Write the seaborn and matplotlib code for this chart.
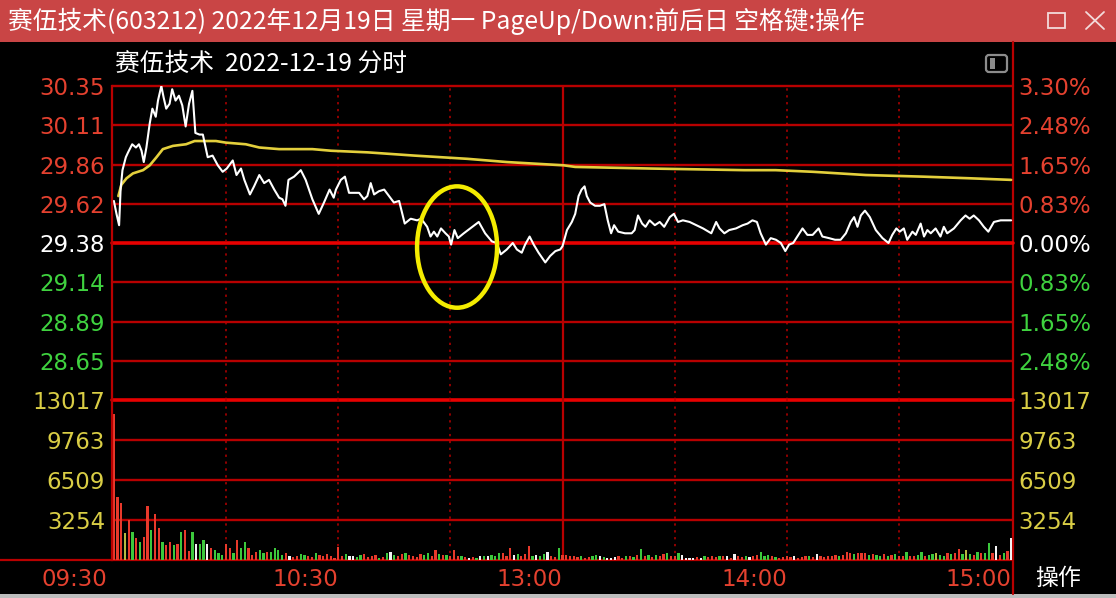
import numpy as np
import pandas as pd
import matplotlib
matplotlib.use("Agg")
import matplotlib.pyplot as plt
import seaborn as sns
from matplotlib.patches import Rectangle, Ellipse, FancyBboxPatch
from matplotlib.lines import Line2D
from matplotlib.transforms import ScaledTranslation

# ---- data (minutes after 09:30, afternoon continues at 120) ----
price_min = [0, 0.7, 1.4, 1.8, 2.3, 3.2, 3.8, 4.9, 5.9, 6.7, 7.4, 8.0, 8.7, 9.6, 10.3, 11.2, 11.8, 12.7,
             13.3, 14.0, 14.9, 15.6, 16.5, 17.4, 18.3, 19.2, 20.1, 21.0, 21.8, 22.9, 23.8, 25.1, 26.4,
             27.8, 29.1, 30.2, 31.8, 32.8, 34.0, 34.9, 36.4, 37.5, 38.9, 40.2, 41.5, 42.9, 44.2, 45.1,
             45.9, 46.7, 48.2, 50.0, 51.3, 53.1, 54.8, 56.2, 57.7, 58.8,
             59.4, 60.7, 61.8, 62.9, 64.3, 65.6, 66.9, 67.8, 68.7, 69.6, 70.9, 72.3, 73.6, 74.9, 76.3,
             77.8, 79.4, 81.1, 82.2, 83.8, 84.7, 85.6, 86.5, 87.5, 88.7, 89.6, 90.2, 91.1, 92.0, 93.6,
             95.3, 97.6, 99.3, 101.1, 102.4, 103.5, 105.1, 106.7, 107.8, 109.1, 110.0, 111.2, 112.3,
             113.6, 115.4, 116.7, 118.1, 119.4,
             120.0, 121.2, 122.5, 123.4, 124.3, 125.1, 125.9, 126.5, 127.4, 128.7, 130.0, 131.2, 132.1,
             133.0, 133.8, 134.9, 136.7, 138.5, 139.3, 140.2, 141.3, 142.2, 143.3, 144.7, 146.0, 147.2,
             148.7, 149.8, 150.9, 152.2, 154.0, 155.8, 157.6, 159.8, 161.1, 162.0, 163.3, 164.6, 166.4,
             168.2, 169.5, 170.8, 172.0, 173.0, 174.4, 175.7, 177.1, 178.4,
             179.6, 180.6, 181.7, 182.8, 184.2, 185.5, 186.9, 188.5, 189.5, 191.3, 192.9, 194.4, 195.8,
             197.1, 198.0, 198.9, 199.8, 200.9, 202.2, 203.8, 205.6, 207.2, 208.2, 209.3, 210.2, 211.3,
             212.2, 213.6, 214.5, 215.8, 216.7, 217.6, 218.5, 219.8, 221.1, 222.0, 222.9, 224.7, 226.5,
             227.8, 228.9, 230.0, 231.4, 232.7, 233.9, 235.4, 237.2, 239.0, 240.0]
price_val = [29.64, 29.56, 29.49, 29.71, 29.83, 29.91, 29.94, 29.99, 29.97, 29.99, 29.95, 29.88, 29.97,
             30.12, 30.21, 30.16, 30.26, 30.35, 30.28, 30.21, 30.24, 30.33, 30.26, 30.29, 30.23, 30.10,
             30.24, 30.32, 30.06, 30.05, 30.05, 29.91, 29.92, 29.86, 29.82, 29.84, 29.89, 29.80, 29.84,
             29.77, 29.68, 29.73, 29.80, 29.75, 29.77, 29.71, 29.66, 29.65, 29.61, 29.77, 29.79, 29.83,
             29.77, 29.65, 29.56, 29.63, 29.71, 29.66,
             29.71, 29.77, 29.79, 29.69, 29.69, 29.69, 29.65, 29.67, 29.75, 29.68, 29.70, 29.71, 29.67,
             29.63, 29.64, 29.50, 29.53, 29.52, 29.53, 29.48, 29.42, 29.45, 29.42, 29.47, 29.44, 29.42,
             29.37, 29.46, 29.41, 29.44, 29.47, 29.51, 29.44, 29.39, 29.38, 29.31, 29.34, 29.38, 29.34,
             29.32, 29.37, 29.42, 29.37, 29.32, 29.26, 29.30, 29.33, 29.34,
             29.36, 29.46, 29.51, 29.56, 29.67, 29.71, 29.73, 29.67, 29.63, 29.61, 29.61, 29.62, 29.52,
             29.44, 29.49, 29.45, 29.44, 29.44, 29.46, 29.55, 29.50, 29.48, 29.52, 29.49, 29.51, 29.48,
             29.54, 29.56, 29.51, 29.52, 29.51, 29.49, 29.47, 29.44, 29.51, 29.47, 29.44, 29.46, 29.47,
             29.49, 29.50, 29.52, 29.51, 29.44, 29.37, 29.41, 29.40, 29.38,
             29.33, 29.37, 29.38, 29.42, 29.47, 29.43, 29.43, 29.47, 29.42, 29.41, 29.40, 29.40, 29.44,
             29.51, 29.54, 29.48, 29.55, 29.58, 29.54, 29.46, 29.41, 29.38, 29.43, 29.47, 29.45, 29.47,
             29.40, 29.45, 29.43, 29.50, 29.42, 29.46, 29.44, 29.47, 29.42, 29.48, 29.44, 29.47, 29.52,
             29.55, 29.53, 29.55, 29.52, 29.48, 29.45, 29.51, 29.52, 29.52, 29.52]

avg_min = [1.2, 2.0, 3.4, 5.1, 7.8, 9.6, 11.4, 13.1, 15.8, 19.3, 21.6, 23.8, 27.3, 30.0, 35.3, 38.9,
           44.2, 53.1, 58.1, 67.9, 80.4, 94.6, 105.2, 120.3, 123.4, 143.8, 168.6, 177.0, 186.9, 201.1,
           216.3, 228.8, 240.0]
avg_val = [29.67, 29.74, 29.78, 29.81, 29.83, 29.86, 29.91, 29.96, 29.98, 29.99, 30.01, 30.01, 30.01,
           30.00, 29.99, 29.97, 29.96, 29.96, 29.95, 29.94, 29.92, 29.90, 29.88, 29.86, 29.85, 29.84,
           29.83, 29.83, 29.82, 29.80, 29.79, 29.78, 29.77]

# one bar per minute, colour code r=up g=down w=flat y=olive
vol = [11880, 5150, 4670, 2170, 3250, 2300, 1760, 1490, 1900, 4400,
       2440, 3740, 2580, 1490, 1220, 1490, 1220, 1300, 2300, 2440,
       700, 2300, 1300, 1300, 1630, 1300, 950, 810, 540, 400,
       1300, 950, 540, 1630, 950, 1490, 950, 400, 680, 810,
       540, 680, 680, 950, 810, 400, 600, 325, 270, 325,
       490, 420, 300, 270, 600, 420, 325, 490, 325, 200,
       1085, 325, 490, 325, 325, 270, 420, 490, 270, 325,
       420, 200, 220, 540, 680, 400, 300, 490, 540, 400,
       300, 270, 490, 400, 540, 300, 815, 490, 400, 400,
       300, 815, 325, 325, 270, 200, 270, 200, 325, 350,
       325, 400, 300, 540, 600, 300, 950, 400, 490, 300,
       490, 1140, 325, 400, 300, 490, 680, 325, 250, 1000,
       400, 400, 300, 325, 270, 300, 200, 270, 300, 400,
       300, 270, 200, 200, 270, 300, 200, 300, 325, 270,
       400, 870, 325, 400, 270, 400, 300, 490, 540, 300,
       325, 600, 400, 200, 200, 200, 270, 200, 300, 270,
       300, 270, 325, 300, 325, 200, 490, 300, 270, 325,
       270, 300, 400, 680, 325, 400, 300, 270, 200, 270,
       300, 270, 300, 200, 270, 325, 300, 270, 490, 300,
       270, 325, 300, 400, 325, 400, 680, 540, 490, 540,
       600, 540, 400, 490, 400, 325, 490, 300, 400, 490,
       300, 325, 680, 300, 325, 400, 680, 325, 400, 490,
       540, 400, 300, 540, 490, 600, 870, 490, 815, 490,
       400, 680, 540, 600, 1380, 540, 1140, 400, 600, 700,
       1750]
vol_col = ("rrryrgrgrr" "grrgrrgrgr" "rgwggwrggg" "rrgrggrrrg" "grggggrwrr" "ggrrgrrrrr"
           "rrgwwggrrr" "rgrgwgrrgr" "rrrggrrgrg" "rrrgrwrgwg" "wgggrrrwgr" "rrgwggwrrg"
           "rrrrrgrrgg" "wgwwwrrgrg" "rgrgrgrrgr" "rgwwwwrwgr" "rrgrwrwrrg" "wrrgggrgrr"
           "rrwrrrgrwr" "rrrrgrrrgr" "rrgrggrgrg" "rrgrrggrgg" "yggrgrrgyg" "rgrggrwrgr" "w")

price_ticks = [30.35, 30.11, 29.86, 29.62, 29.38, 29.14, 28.89, 28.65]
price_labels = ["30.35", "30.11", "29.86", "29.62", "29.38", "29.14", "28.89", "28.65"]
pct_labels = ["3.30%", "2.48%", "1.65%", "0.83%", "0.00%", "0.83%", "1.65%", "2.48%"]
vol_ticks = [3254, 6509, 9763, 13017]
vol_labels = ["3254", "6509", "9763", "13017"]
time_ticks = [0, 60, 120, 180, 240]
time_labels = ["09:30", "10:30", "13:00", "14:00", "15:00"]
half_hours = [30, 60, 90, 150, 180, 210]

title = "赛伍技术(603212) 2022年12月19日 星期一 PageUp/Down:前后日 空格键:操作"
subtitle = "赛伍技术  2022-12-19 分时"

# colours
RED = "#e4412f"
GREEN = "#3fd23f"
YEL = "#d9cd45"
GRID = "#b80000"
GRID_HI = "#e80000"
label_cols = [RED] * 4 + ["white"] + [GREEN] * 3
vol_palette = {"r": "#e8392b", "g": "#3cc83c", "w": "#f2f2f2", "y": "#b8b840"}

sns.set_theme(style="dark", rc={"axes.facecolor": "black", "figure.facecolor": "black"})
plt.rcParams["font.family"] = ["DejaVu Sans", "Noto Sans CJK SC"]
cjk = ["Noto Sans CJK SC", "DejaVu Sans"]

W, H = 1116, 598
fig = plt.figure(figsize=(W / 100, H / 100), dpi=100, facecolor="black")


def px_rect(x0, y0, x1, y1):
    return [x0 / W, 1 - y1 / H, (x1 - x0) / W, (y1 - y0) / H]


# background / window chrome in pixel coordinates
bg = fig.add_axes([0, 0, 1, 1], zorder=0)
bg.set_xlim(0, W)
bg.set_ylim(H, 0)
bg.axis("off")
bg.add_patch(Rectangle((0, 0), W, 42, color="#c94545", lw=0))
bg.add_patch(Rectangle((0, 594), W, 4, color="#bdbdbd", lw=0))
bg.text(8, 21, title, color="white", fontsize=17.8, va="center", ha="left", family=cjk)
bg.add_patch(Rectangle((1048, 13), 17, 15, fill=False, ec="#f3dada", lw=1.3))
bg.add_line(Line2D([1086, 1104], [12, 29], color="#f3dada", lw=1.3))
bg.add_line(Line2D([1086, 1104], [29, 12], color="#f3dada", lw=1.3))
bg.text(115, 64, subtitle, color="white", fontsize=17.8, va="center", ha="left", family=cjk)
bg.add_patch(FancyBboxPatch((986, 55), 21, 17, boxstyle="round,pad=0,rounding_size=3",
                            fill=False, ec="#8c8c8c", lw=1.6))
bg.add_patch(Rectangle((989.5, 58), 5, 11, color="#8c8c8c", lw=0))
bg.add_line(Line2D([1013, 1013], [42, 594], color=GRID, lw=1.6))
bg.add_line(Line2D([0, 1013], [560, 560], color=GRID, lw=1.6))
bg.text(1058, 578, "操作", color="white", fontsize=16.5, va="center", ha="center", family=cjk)

ax = fig.add_axes(px_rect(112, 86, 1013, 400), zorder=1)
axv = fig.add_axes(px_rect(112, 400, 1013, 560), zorder=1)
for a in (ax, axv):
    a.set_facecolor("none")
    for s in a.spines.values():
        s.set_visible(False)
    a.spines["left"].set_visible(True)
    a.spines["left"].set_color(GRID)
    a.spines["left"].set_linewidth(1.6)

# price panel
sns.lineplot(x=avg_min, y=avg_val, ax=ax, color="#e3cf3c", linewidth=1.9, estimator=None, sort=False)
sns.lineplot(x=price_min, y=price_val, ax=ax, color="white", linewidth=1.5, estimator=None, sort=False)
ax.set_xlim(-0.5, 240.5)
ax.set_ylim(28.41, 30.35)
for t in price_ticks:
    hi = t == 29.38
    ax.axhline(t, color=GRID_HI if hi else GRID, lw=2.6 if hi else 1.7, zorder=0, clip_on=False)
ax.axhline(28.41, color=GRID_HI, lw=2.6, zorder=0, clip_on=False)
for m in half_hours:
    ax.axvline(m, color=GRID, lw=1.1, ls=(0, (1.5, 3)), zorder=0)
ax.axvline(120, color=GRID, lw=1.6, zorder=0)
ax.add_patch(Ellipse((91.8, 29.355), width=21.4, height=0.75, fill=False,
                     ec="#f4ec00", lw=3.2, zorder=5))
ax.set_yticks(price_ticks, price_labels)
ax.set_xticks([])
ax.set_xlabel("")
ax.set_ylabel("")
ax.tick_params(axis="y", length=0, pad=5, labelsize=16.5)
for lbl, c in zip(ax.get_yticklabels(), label_cols):
    lbl.set_color(c)

axr = ax.twinx()
axr.set_ylim(ax.get_ylim())
axr.set_yticks(price_ticks, pct_labels)
axr.tick_params(axis="y", length=0, pad=4, labelsize=16.5)
for s in axr.spines.values():
    s.set_visible(False)
for lbl, c in zip(axr.get_yticklabels(), label_cols):
    lbl.set_color(c)

# volume panel
df_vol = pd.DataFrame({"minute": np.arange(len(vol)), "vol": vol, "col": list(vol_col)})
sns.barplot(data=df_vol, x="minute", y="vol", hue="col", palette=vol_palette, native_scale=True,
            width=0.6, saturation=1, errorbar=None, legend=False, dodge=False, linewidth=0, ax=axv)
axv.set_xlim(-0.5, 240.5)
axv.set_ylim(0, 13017)
for t in vol_ticks[:-1]:
    axv.axhline(t, color=GRID, lw=1.7, zorder=0)
for m in half_hours:
    axv.axvline(m, color=GRID, lw=1.1, ls=(0, (1.5, 3)), zorder=0)
axv.axvline(120, color=GRID, lw=1.6, zorder=0)
axv.set_yticks(vol_ticks, vol_labels)
axv.set_xticks(time_ticks, time_labels)
axv.set_xlabel("")
axv.set_ylabel("")
axv.tick_params(axis="y", length=0, pad=5, labelsize=16.5, labelcolor=YEL)
axv.tick_params(axis="x", length=0, pad=6, labelsize=16.5, labelcolor=RED)
for i, lbl in enumerate(axv.get_xticklabels()):
    lbl.set_ha("right")
    if i == 0:
        lbl.set_transform(lbl.get_transform() + ScaledTranslation(-0.07, 0, fig.dpi_scale_trans))

axvr = axv.twinx()
axvr.set_ylim(axv.get_ylim())
axvr.set_yticks(vol_ticks, vol_labels)
axvr.tick_params(axis="y", length=0, pad=4, labelsize=16.5, labelcolor=YEL)
for s in axvr.spines.values():
    s.set_visible(False)

fig.savefig("out.png", dpi=100, facecolor="black")
